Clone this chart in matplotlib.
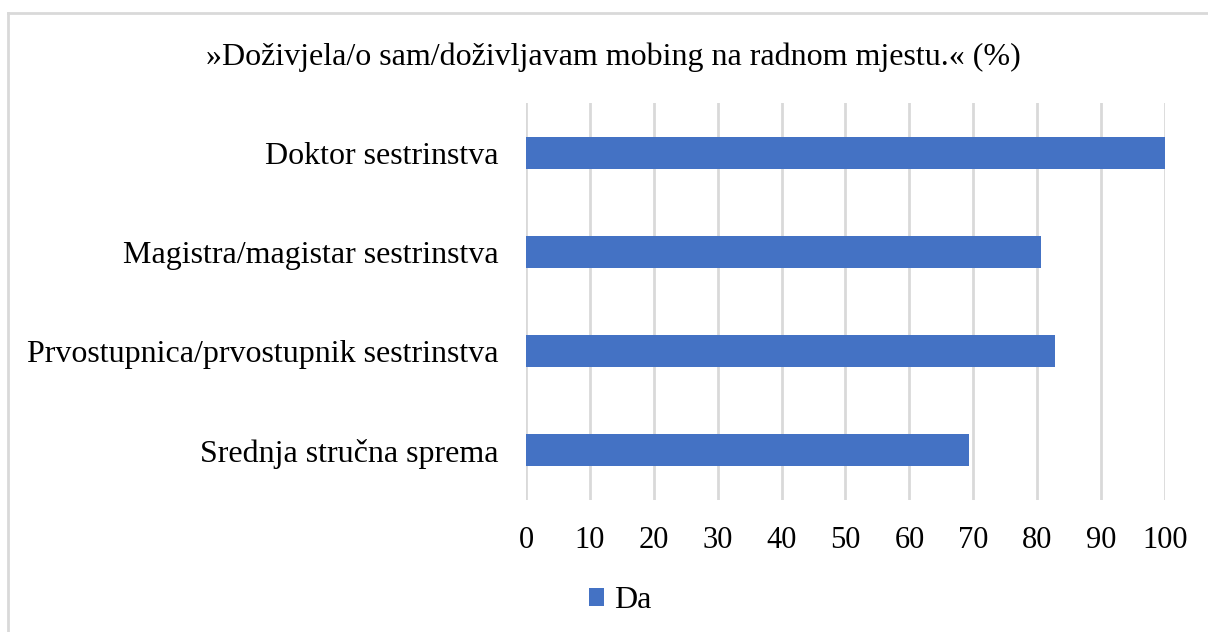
import matplotlib.pyplot as plt
from matplotlib.lines import Line2D

# podaci
kategorije = ["Srednja stručna sprema",
              "Prvostupnica/prvostupnik sestrinstva",
              "Magistra/magistar sestrinstva",
              "Doktor sestrinstva"]
da = [69.3, 82.8, 80.6, 100.0]
x_ticks = [0, 10, 20, 30, 40, 50, 60, 70, 80, 90, 100]
naslov = "»Doživjela/o sam/doživljavam mobing na radnom mjestu.« (%)"

plt.rcParams['font.family'] = ['Liberation Serif', 'DejaVu Serif']

fig = plt.figure(figsize=(12.08, 6.32), dpi=100)
ax = fig.add_axes([526 / 1208, 1 - 500 / 632, 639 / 1208, 397 / 632])

ax.barh(range(len(kategorije)), da, height=0.32, color='#4472c4', zorder=3, label='Da')

ax.set_xlim(0, 100)
ax.set_ylim(-0.5, len(kategorije) - 0.5)
ax.set_xticks(x_ticks)
ax.set_yticks(range(len(kategorije)))
ax.set_yticklabels(kategorije)
ax.tick_params(axis='x', length=0, pad=18.5, labelsize=22, colors='black')
ax.tick_params(axis='y', length=0, pad=20, labelsize=23)
ax.grid(axis='x', color='#d9d9d9', linewidth=2, zorder=0)
for s in ax.spines.values():
    s.set_visible(False)

fig.text(613 / 1208, 1 - 57 / 632, naslov, ha='center', va='center', fontsize=23)

fig.legend(loc='center', bbox_to_anchor=(620 / 1208, 1 - 601 / 632), frameon=False,
           fontsize=23, handlelength=0.47, handleheight=0.47, handletextpad=0.3)

# okvir grafikona
fig.add_artist(Line2D([8 / 1208, 1], [1 - 13 / 632] * 2, color='#d9d9d9', linewidth=2))
fig.add_artist(Line2D([8 / 1208] * 2, [0, 1 - 13 / 632], color='#d9d9d9', linewidth=2))

fig.savefig('out.png', dpi=100)
